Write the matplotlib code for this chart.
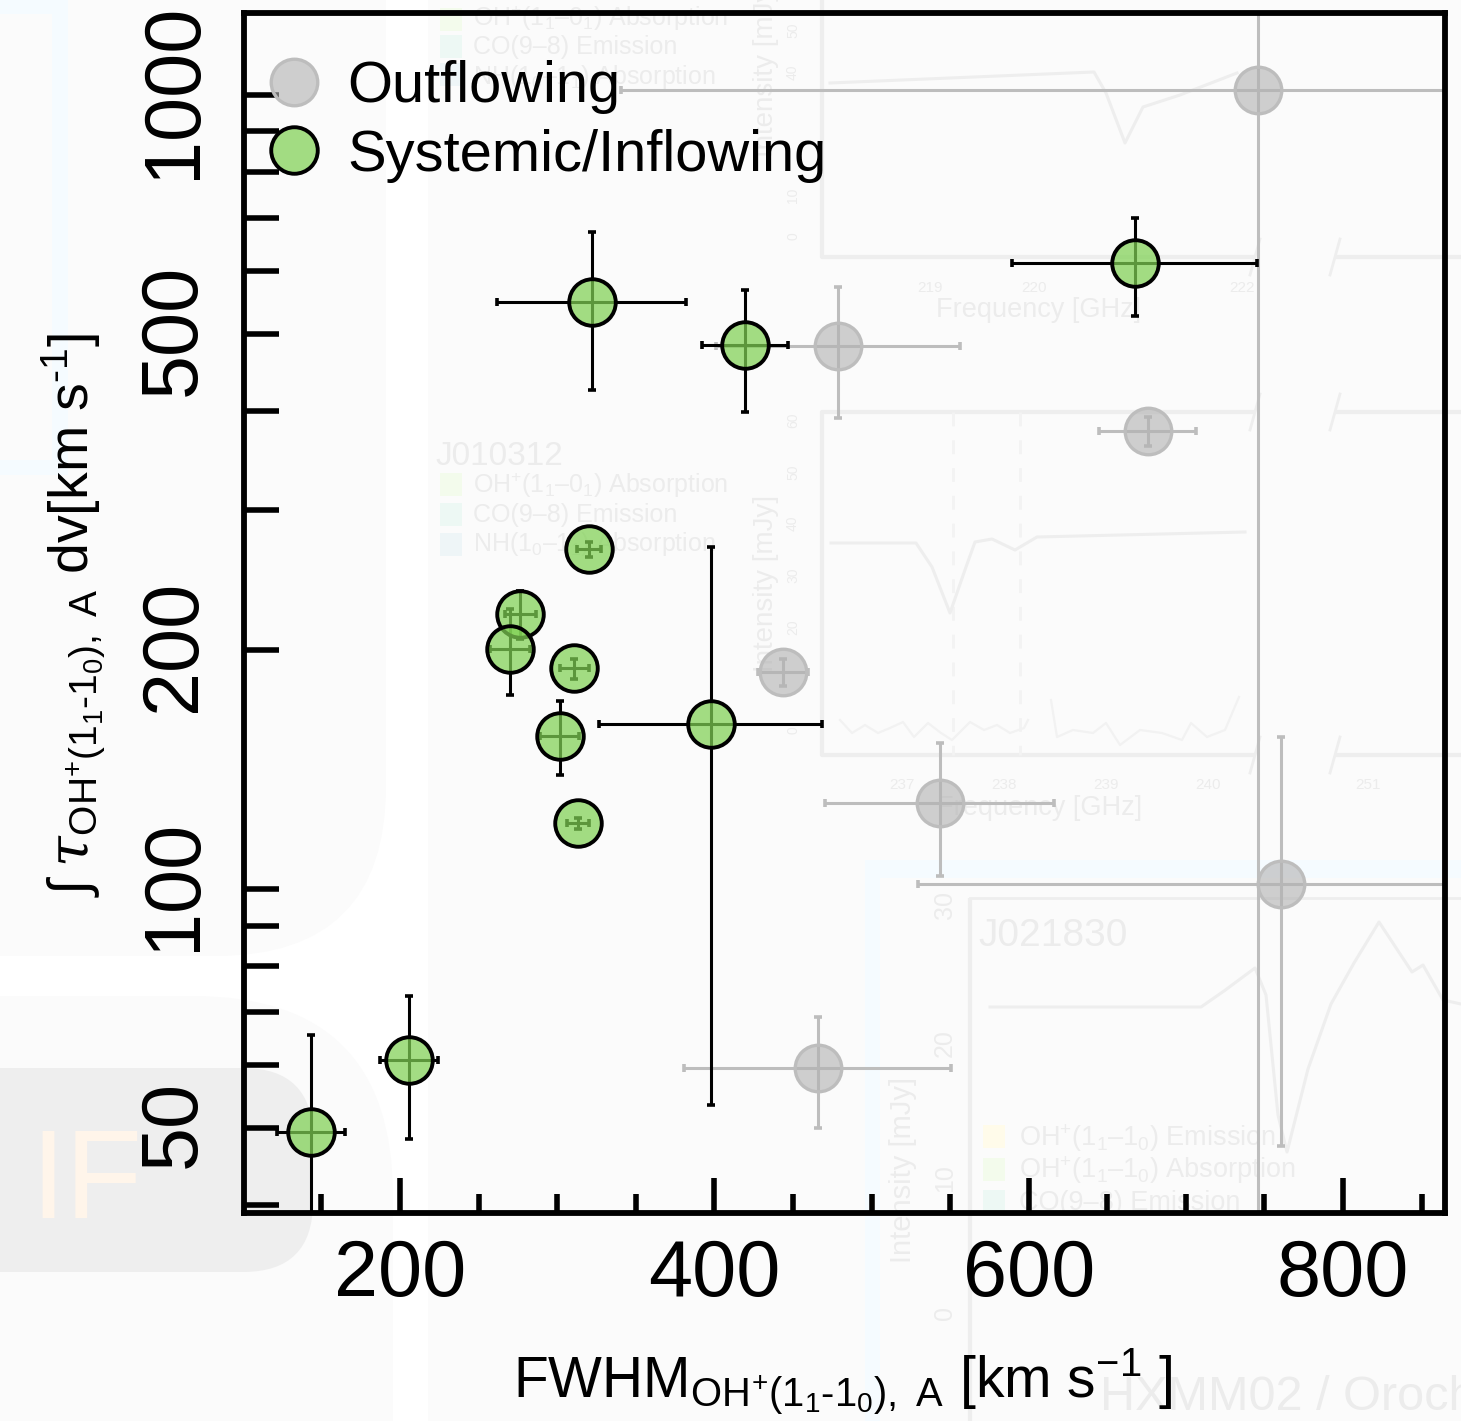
"""OH+ absorption strength against line width, with the faded page behind it."""
import matplotlib
matplotlib.use("Agg")
import matplotlib.pyplot as plt
from matplotlib.lines import Line2D
from matplotlib.patches import FancyBboxPatch, Rectangle
from matplotlib.transforms import ScaledTranslation

plt.rcParams["font.family"] = ["Liberation Sans", "DejaVu Sans"]
plt.rcParams["mathtext.fontset"] = "custom"
plt.rcParams["mathtext.rm"] = "Liberation Sans"
plt.rcParams["mathtext.it"] = "Liberation Sans:italic"
plt.rcParams["mathtext.bf"] = "Liberation Sans:bold"
plt.rcParams["mathtext.cal"] = "DejaVu Serif:italic"
plt.rcParams["mathtext.fallback"] = "stix"

# systemic / inflowing sources
green_fwhm = [143.4, 205.7, 322.0, 419.4, 667.4, 320.2, 276.5, 270.0, 310.8, 301.6, 397.6, 313.2]
green_fwhm_err = [21.6, 18.5, 60.0, 27.3, 78.0, 7.4, 10.0, 12.5, 9.3, 12.5, 71.0, 7.0]
green_tau = [49.4, 60.9, 548.7, 484.0, 614.0, 268.0, 222.0, 200.6, 189.7, 155.9, 161.5, 121.0]
green_tau_err = [16.1, 12.4, 123.0, 85.0, 87.0, 5.8, 15.5, 25.0, 5.5, 16.6, 108.0, 2.1]

# outflowing sources
gray_fwhm = [745.6, 478.5, 675.7, 443.6, 543.4, 760.3, 465.8]
gray_fwhm_err = [405.0, 77.6, 31.0, 16.0, 73.0, 231.0, 85.0]
gray_tau = [1014.6, 483.0, 377.5, 187.6, 128.3, 101.5, 59.5]
gray_tau_err = [1000.0, 91.0, 15.5, 7.6, 24.5, 54.0, 9.5]

y_labeled = [50, 100, 200, 500, 1000]
y_minor = [40, 60, 70, 80, 90, 300, 400, 600, 700, 800, 900]
x_labeled = [200, 400, 600, 800]
x_minor = [150, 250, 300, 350, 450, 500, 550, 650, 700, 750, 850]

# faded spectra showing through from the page behind (pixel readings)
ghost_a_x = [831, 916, 932, 950, 966, 975, 992, 1015, 1037, 1245]
ghost_a_y = [543, 543, 567, 613, 567, 542, 539, 550, 537, 532]
ghost_b_x = [990, 1201, 1224, 1255, 1266, 1278, 1287, 1308, 1331, 1354, 1379, 1412, 1423, 1443, 1461]
ghost_b_y = [1007, 1007, 991, 968, 995, 1115, 1152, 1069, 1004, 963, 922, 972, 965, 1000, 1004]
ghost_c_x = [830, 1094, 1106, 1125, 1143, 1180, 1237]
ghost_c_y = [83, 72, 93, 143, 107, 95, 73]
ghost_r1_x = [840, 852, 865, 878, 890, 903, 914, 928, 941, 952, 970, 984, 997, 1010, 1024, 1028]
ghost_r1_y = [720, 733, 725, 733, 728, 722, 737, 723, 733, 740, 722, 730, 725, 733, 728, 720]
ghost_r2_x = [1051, 1057, 1073, 1093, 1106, 1120, 1140, 1162, 1182, 1191, 1207, 1225, 1239]
ghost_r2_y = [700, 737, 730, 733, 723, 745, 730, 733, 740, 723, 737, 730, 697]

W, H = 1461, 1421
GHOST = "#eeeeee"
GHOST_TXT = "#ececec"
PALE_BLUE = "#f5fbff"

fig = plt.figure(figsize=(W / 100, H / 100), dpi=100, facecolor="white")

# ── background layer, in pixels ─────────────────────────────────────────────
bg = fig.add_axes([0, 0, 1, 1], zorder=0)
bg.set_xlim(0, W)
bg.set_ylim(H, 0)
bg.axis("off")


def rounded(x0, y0, x1, y1, r, color):
    bg.add_patch(FancyBboxPatch((x0 + r, y0 + r), x1 - x0 - 2 * r, y1 - y0 - 2 * r,
                                boxstyle=f"round,pad={r},rounding_size={r}",
                                fc=color, ec="none"))


bg.add_patch(Rectangle((428, 0), W - 428, H, fc="#fbfbfb", ec="none"))
rounded(-300, -300, 386, 956, 170, "#fbfbfb")
rounded(-300, 996, 393, 1900, 200, "#fbfbfb")
rounded(-300, 1068, 313, 1272, 70, "#eeeeee")
bg.text(30, 1218, "IF", fontsize=91, color="#fff5ea", va="baseline")

for box in [(52, 0, 16, 475), (0, 460, 68, 15), (0, 0, 68, 14), (865, 860, 15, 561), (865, 860, 596, 18)]:
    bg.add_patch(Rectangle(box[:2], box[2], box[3], fc=PALE_BLUE, ec="none"))

frame_kw = dict(color=GHOST, lw=3, solid_capstyle="butt")
bg.plot([822, 822, 1255], [0, 257, 257], **frame_kw)
bg.plot([1335, W], [257, 257], **frame_kw)
bg.plot([1255, 822, 822, 1255], [412, 412, 755, 755], **frame_kw)
bg.plot([1335, W], [412, 412], **frame_kw)
bg.plot([1335, W], [755, 755], **frame_kw)
bg.plot([970, 970], [H, 898], **frame_kw)
bg.plot([970, W], [898, 898], color=GHOST, lw=2)
for sx, sy in [(1255, 257), (1335, 257), (1255, 412), (1335, 412), (1255, 755), (1335, 755)]:
    bg.plot([sx - 5, sx + 5], [sy + 18, sy - 18], color=GHOST, lw=2)
for dash_x in (953, 1020):
    bg.plot([dash_x, dash_x], [412, 755], color="#f3f3f3", lw=2, ls=(0, (5, 5)))

spec_kw = dict(color=GHOST, lw=2.2)
bg.plot(ghost_a_x, ghost_a_y, **spec_kw)
bg.plot(ghost_b_x, ghost_b_y, **spec_kw)
bg.plot(ghost_c_x, ghost_c_y, **spec_kw)
bg.plot(ghost_r1_x, ghost_r1_y, color="#f2f2f2", lw=1.6)
bg.plot(ghost_r2_x, ghost_r2_y, color="#f2f2f2", lw=1.6)

for sw_x, sw_y, name in [(440, 8, "#f3fbec"), (440, 35, "#edf8f4"), (440, 63, "#eef5f7"),
                         (440, 473, "#f3fbec"), (440, 503, "#edf8f4"), (440, 533, "#eef5f7"),
                         (983, 1125, "#fffbea"), (983, 1158, "#f3fbec"), (983, 1190, "#edf8f4")]:
    bg.add_patch(Rectangle((sw_x, sw_y), 22, 23, fc=name, ec="none"))

for tx, ty, s, size in [
    (473, 26, r"OH$^{+}$(1$_{1}$–0$_{1}$) Absorption", 18),
    (473, 54, "CO(9–8) Emission", 18),
    (473, 84, r"NH(1$_{0}$–1$_{1}$) Absorption", 18),
    (435, 465, "J010312", 24),
    (473, 493, r"OH$^{+}$(1$_{1}$–0$_{1}$) Absorption", 18),
    (473, 522, "CO(9–8) Emission", 18),
    (473, 551, r"NH(1$_{0}$–1$_{1}$) Absorption", 18),
    (936, 317, "Frequency [GHz]", 19.5),
    (937, 815, "Frequency [GHz]", 19.5),
    (978, 946, "J021830", 28),
    (1019, 1146, r"OH$^{+}$(1$_{1}$–1$_{0}$) Emission", 19.5),
    (1019, 1178, r"OH$^{+}$(1$_{1}$–1$_{0}$) Absorption", 19.5),
    (1019, 1210, "CO(9–8) Emission", 19.5),
    (1100, 1410, "HXMM02 / Orochi", 35),
]:
    bg.text(tx, ty, s, fontsize=size, color=GHOST_TXT, va="baseline", clip_on=True)

for tx, ty, s, size in [(766, 583, "Intensity [mJy]", 20), (766, 68, "Intensity [mJy]", 20),
                        (903, 1170, "Intensity [mJy]", 21)]:
    bg.text(tx, ty, s, fontsize=size, color=GHOST_TXT, rotation=90, ha="center", va="center")

for tx, ty, s in [(793, 420, "60"), (793, 472, "50"), (793, 523, "40"), (793, 575, "30"), (793, 627, "20"),
                  (793, 730, "0"), (793, 30, "50"), (793, 72, "40"), (793, 195, "10"), (793, 236, "0")]:
    bg.text(tx, ty, s, fontsize=10, color=GHOST_TXT, rotation=90, ha="center", va="center")
for tx, ty, s in [(945, 905, "30"), (945, 1043, "20"), (945, 1178, "10"), (945, 1313, "0")]:
    bg.text(tx, ty, s, fontsize=18, color=GHOST_TXT, rotation=90, ha="center", va="center")
for tx, ty, s in [(930, 288, "219"), (1034, 288, "220"), (1242, 288, "222"), (902, 785, "237"),
                  (1004, 785, "238"), (1106, 785, "239"), (1208, 785, "240"), (1368, 785, "251")]:
    bg.text(tx, ty, s, fontsize=11, color=GHOST_TXT, ha="center", va="center")

# ── the chart itself ────────────────────────────────────────────────────────
ax = fig.add_axes([244 / W, 1 - 1213 / H, (1445 - 244) / W, (1213 - 13) / H], zorder=1)
ax.patch.set_alpha(0)
ax.set_yscale("log")
ax.set_xlim(100.7, 864.9)
ax.set_ylim(39.1, 1269)

GRAY_LINE = "#bdbdbd"
GREEN_FACE = (0.50, 0.82, 0.33, 0.72)
GRAY_FACE = (0.70, 0.70, 0.70, 0.62)

ax.errorbar(gray_fwhm, gray_tau, xerr=gray_fwhm_err, yerr=gray_tau_err, fmt="none",
            ecolor=GRAY_LINE, elinewidth=2.2, capsize=3, capthick=2.6, zorder=2)
ax.plot(gray_fwhm, gray_tau, "o", ms=33.5, mfc=GRAY_FACE, mec=GRAY_LINE, mew=2.4, zorder=3)
ax.errorbar(green_fwhm, green_tau, xerr=green_fwhm_err, yerr=green_tau_err, fmt="none",
            ecolor="black", elinewidth=2.2, capsize=3, capthick=2.6, zorder=4)
ax.plot(green_fwhm, green_tau, "o", ms=33.5, mfc=GREEN_FACE, mec="black", mew=2.8, zorder=5)

ax.set_xticks(x_labeled)
ax.set_xticklabels([str(v) for v in x_labeled])
ax.set_xticks(x_minor, minor=True)
ax.set_yticks(y_labeled)
ax.set_yticklabels([str(v) for v in y_labeled], rotation=90, va="center")
ax.set_yticks(y_minor, minor=True)
ax.set_yticklabels([], minor=True)

ax.tick_params(axis="x", which="major", direction="in", length=25, width=4, labelsize=57, pad=18)
ax.tick_params(axis="x", which="minor", direction="in", length=14, width=4)
ax.tick_params(axis="y", which="both", direction="in", length=25, width=4, labelsize=57, pad=23)
# rotated labels sit a few pixels low without this
nudge = ScaledTranslation(0, 4 / 100, fig.dpi_scale_trans)
for label in ax.get_yticklabels():
    label.set_transform(label.get_transform() + nudge)
for spine in ax.spines.values():
    spine.set_linewidth(4.2)
    spine.set_zorder(6)

fig.text(843 / W, 1 - 1397 / H,
         r"FWHM$_{\mathrm{OH^{+}(1_{1}\text{-}1_{0}),\ A}}$ [km s$^{-1}$ ]",
         fontsize=41, ha="center", va="baseline", zorder=3)
fig.text(108 / W, 1 - 615 / H,
         r"$\int\;\mathcal{\tau}_{\mathrm{OH^{+}(1_{1}\text{-}1_{0}),\ A}}$ dv[km s$^{\text{-}1}$]",
         fontsize=40, rotation=90, ha="right", va="center", zorder=3)

handles = [
    Line2D([], [], ls="none", marker="o", ms=33.5, mfc=GRAY_FACE, mec=GRAY_LINE, mew=2.4),
    Line2D([], [], ls="none", marker="o", ms=33.5, mfc=GREEN_FACE, mec="black", mew=2.8),
]
leg = ax.legend(handles, ["Outflowing", "Systemic/Inflowing"], loc="upper left",
                bbox_to_anchor=(-0.0015, 0.98), frameon=False, fontsize=41.7, labelspacing=0.25,
                handletextpad=0.41, borderaxespad=0.2, borderpad=0.2, handlelength=1.0)
leg.set_zorder(7)

fig.savefig("out.png", dpi=100)
